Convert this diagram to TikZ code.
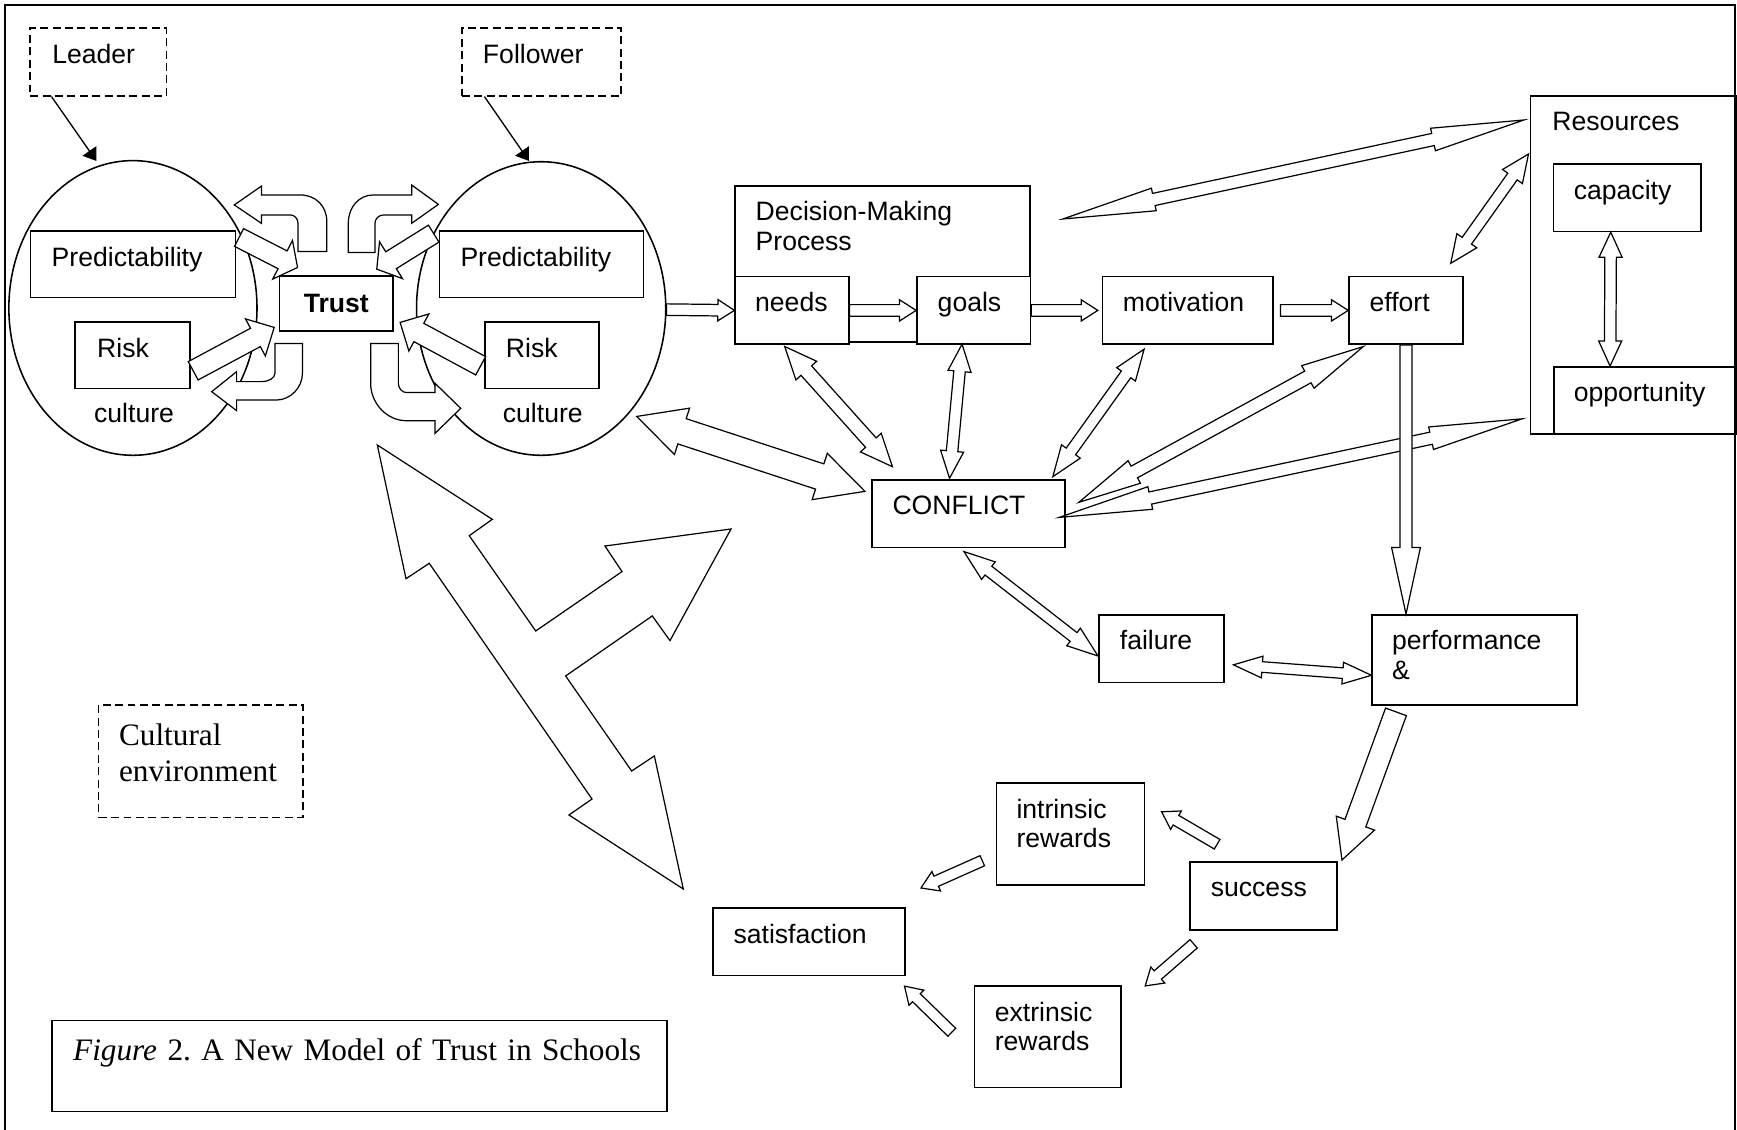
\documentclass[tikz,border=0pt]{standalone}
\usepackage{fontspec}
\setmainfont{Liberation Sans}
\newfontfamily\timesfont{Liberation Serif}
\frenchspacing
\usetikzlibrary{arrows.meta,calc,shapes.geometric}

% hollow block arrow: from, to, half shaft, half head, head length
\newcommand{\blockarrow}[5]{%
  \path (#1) coordinate (ba-a) (#2) coordinate (ba-b);
  \path ($(ba-b)!#5!(ba-a)$) coordinate (ba-n);
  \draw[blk] ($(ba-a)!#3!90:(ba-b)$) -- ($(ba-n)!#3!90:(ba-b)$) -- ($(ba-n)!#4!90:(ba-b)$) -- (ba-b)
    -- ($(ba-n)!#4!-90:(ba-b)$) -- ($(ba-n)!#3!-90:(ba-b)$) -- ($(ba-a)!#3!-90:(ba-b)$) -- cycle;}
% same, with a head at both ends
\newcommand{\dblockarrow}[5]{%
  \path (#1) coordinate (ba-a) (#2) coordinate (ba-b);
  \path ($(ba-a)!#5!(ba-b)$) coordinate (ba-m) ($(ba-b)!#5!(ba-a)$) coordinate (ba-n);
  \draw[blk] (ba-a) -- ($(ba-m)!#4!90:(ba-b)$) -- ($(ba-m)!#3!90:(ba-b)$) -- ($(ba-n)!#3!90:(ba-b)$)
    -- ($(ba-n)!#4!90:(ba-b)$) -- (ba-b) -- ($(ba-n)!#4!-90:(ba-b)$) -- ($(ba-n)!#3!-90:(ba-b)$)
    -- ($(ba-m)!#3!-90:(ba-b)$) -- ($(ba-m)!#4!-90:(ba-b)$) -- cycle;}

\begin{document}
\begin{tikzpicture}[x=0.5pt, y=-0.5pt,
  box/.style={draw, line width=0.7pt, anchor=north west, align=left, inner ysep=0pt,
              font=\fontsize{12}{13.4}\selectfont, text height=15.8pt},
  dbox/.style={box, dash pattern=on 3.6pt off 2pt},
  serifbox/.style={box, font=\timesfont\fontsize{14.1}{16.3}\selectfont, text height=18.4pt},
  blk/.style={draw, fill=white, line width=0.55pt, line join=miter},
  ptr/.style={-{Triangle[length=5.5pt, width=7.5pt]}, line width=0.6pt},
  oval/.style={draw, ellipse, line width=0.7pt, inner sep=0pt},
  lbl/.style={anchor=base, inner sep=0pt, font=\fontsize{12}{13.4}\selectfont}]
\useasboundingbox (0,0) rectangle (1568,1020);

% leader and follower
\node[oval, minimum width=112pt, minimum height=133pt] (ellL) at (120,278) {};
\node[oval, minimum width=112.5pt, minimum height=132.5pt] (ellR) at (488.5,278.5) {};
\node[lbl] (cultL) at (121,381) {culture};
\node[lbl] (cultR) at (490,381) {culture};
\node[dbox, inner xsep=10pt, text width=41.6pt, text depth=14.75pt] (leader) at (26.5,24.7) {Leader};
\node[dbox, inner xsep=9.5pt, text width=52.9pt, text depth=14.75pt] (follower) at (416.3,24.7) {Follower};
\draw[ptr] ([shift={(20,0)}]leader.south west) -- ([shift={(-33,1)}]ellL.north);
\draw[ptr] ([shift={(21,0)}]follower.south west) -- ([shift={(-11,0)}]ellR.north);
\node[box, inner xsep=9.5pt, text width=73.5pt, text depth=14.2pt] (predL) at (27,208) {Predictability};
\node[box, inner xsep=10pt, text width=32pt, text depth=14.2pt] (riskL) at (67,290) {Risk};
\node[box, inner xsep=9.5pt, text width=73pt, text depth=14.2pt] (predR) at (396,208) {Predictability};
\node[box, inner xsep=9.5pt, text width=32.5pt, text depth=14.2pt] (riskR) at (437,290) {Risk};
\node[draw, line width=0.7pt, minimum width=51.4pt, minimum height=24.85pt, inner sep=0pt,
      font=\bfseries\fontsize{12}{13.4}\selectfont] (trust) at (303.6,274) {Trust};

% loops round trust
\draw[blk] (295,227) -- (295,200) .. controls (295,186) and (285,176) .. (271,176) -- (236,176) -- (236,168)
  -- (211.5,185) -- (236,201.6) -- (236,194) -- (262,194) .. controls (266,194) and (269,197.5) .. (269,201.6)
  -- (269,227) -- cycle;
\draw[blk] (314.4,228) -- (314.4,201.6) .. controls (314.4,187) and (324,176) .. (337,176) -- (371.6,176)
  -- (371.6,167) -- (395.7,184.5) -- (371.6,201.6) -- (371.6,194.1) -- (346,194.1)
  .. controls (342,194.1) and (338.5,197.5) .. (338.5,201.6) -- (338.5,228) -- cycle;
\draw[blk] (248.2,310) -- (273,310) -- (273,337) .. controls (273,350) and (262,361.1) .. (249.7,361.1)
  -- (213.6,361.1) -- (213.6,370.7) -- (191.1,353.6) -- (213.6,335.5) -- (213.6,344.5) -- (236,344.5)
  .. controls (243,344.5) and (248.2,341) .. (248.2,337) -- cycle;
\draw[blk] (334.6,310) -- (359.6,310) -- (359.6,346) .. controls (359.6,350.5) and (363,354.4) .. (367.1,354.4)
  -- (392.7,354.4) -- (392.7,346) -- (415.9,368.6) -- (392.7,391.2) -- (392.7,379.8) -- (367,379.8)
  .. controls (349,379.8) and (334.6,364) .. (334.6,346) -- cycle;
\blockarrow{[shift={(2.4,6.4)}]predL.north east}{[shift={(17.1,-7)}]trust.north west}{4.5pt}{9.8pt}{7.6pt}
\blockarrow{[shift={(2,14)}]riskL.east}{[shift={(-4,-4)}]trust.south west}{4.7pt}{9.5pt}{9.6pt}
\blockarrow{[shift={(-4.5,2.9)}]predR.north west}{[shift={(-15.6,-5.5)}]trust.north east}{4.5pt}{9.8pt}{7.6pt}
\blockarrow{[shift={(-3.1,9.5)}]riskR.west}{[shift={(5.5,-8.5)}]trust.south east}{4.7pt}{9.5pt}{9.6pt}

% decision chain
\node[box, inner xsep=9.25pt, text width=114.5pt, text depth=54.7pt] (dm) at (663,167) {Decision-Making\\Process};
\node[box, fill=white, inner xsep=9pt, text width=33.25pt, text depth=14.7pt] (needs) at (663,249) {needs};
\node[box, fill=white, inner xsep=9.4pt, text width=32.45pt, text depth=14.7pt] (goals) at (827,249) {goals};
\node[box, inner xsep=9.25pt, text width=58.5pt, text depth=14.7pt] (motiv) at (994.5,249) {motivation};
\node[box, inner xsep=9.3pt, text width=32.9pt, text depth=14.7pt] (effort) at (1217,249) {effort};
\node[box, inner xsep=9.85pt, text width=72.9pt, text depth=136.8pt] (res) at (1381,85.8) {Resources};
\node[box, inner xsep=9.2pt, text width=48.3pt, text depth=14.6pt] (capacity) at (1401.6,147.4) {capacity};
\node[box, inner xsep=9pt, text width=64.1pt, text depth=14.5pt] (opport) at (1402,330.4) {opportunity};
\node[box, inner xsep=9.35pt, text width=68.45pt, text depth=14.75pt] (conflict) at (786.3,432.4) {CONFLICT};
\node[box, inner xsep=9.5pt, text width=37.4pt, text depth=14.65pt] (failure) at (991.2,554.3) {failure};
\node[box, inner xsep=9pt, text width=74.45pt, text depth=24.9pt] (perf) at (1238,554.3) {performance\\\&};
\node[box, inner xsep=9.5pt, text width=47.5pt, text depth=14.9pt] (success) at (1073.3,777.2) {success};
\node[box, inner xsep=9pt, text width=48.75pt, text depth=30.3pt] (intrinsic) at (898.9,706.2) {intrinsic\\rewards};
\node[box, inner xsep=9.25pt, text width=47.75pt, text depth=29.9pt] (extrinsic) at (878.8,889.4) {extrinsic\\rewards};
\node[box, inner xsep=9.25pt, text width=68pt, text depth=14.7pt] (satisf) at (643,819) {satisfaction};
\node[serifbox, dash pattern=on 3.6pt off 2pt, inner xsep=9.2pt, text width=73.7pt, text depth=32.4pt] (cultenv) at (88.4,635.5) {Cultural\\environment};
\node[serifbox, inner xsep=9.5pt, text width=258.5pt, text height=18.25pt, text depth=22.9pt] (caption) at (46.4,920.4) {\mbox{\textit{Figure} 2. A New Model of Trust in Schools}};

% arrows
\blockarrow{[shift={(0,1)}]ellR.east}{needs.west}{2.6pt}{4.8pt}{7.5pt}
\blockarrow{needs.east}{goals.west}{2.6pt}{4.8pt}{7.5pt}
\blockarrow{goals.east}{[shift={(-3.5,0)}]motiv.west}{2.6pt}{4.8pt}{7.5pt}
\blockarrow{[shift={(6,0)}]motiv.east}{effort.west}{2.6pt}{4.8pt}{7.5pt}
\dblockarrow{[shift={(-7,-14.3)}]res.south west}{[shift={(-5.8,3.4)}]conflict.east}{2.8pt}{5.2pt}{42pt}
\dblockarrow{[shift={(-5.3,22.5)}]res.north west}{[shift={(29,30.7)}]dm.north east}{2.8pt}{5.2pt}{42pt}
\blockarrow{effort.south}{effort.south |- perf.north}{2.7pt}{6.5pt}{30pt}
\blockarrow{[shift={(-71,5.5)}]perf.south}{[shift={(3.7,-0.9)}]success.north east}{5pt}{9.2pt}{17.7pt}
\blockarrow{[shift={(25.4,-15.1)}]success.north west}{[shift={(14.8,-20.2)}]intrinsic.east}{2.5pt}{4.8pt}{7.5pt}
\blockarrow{[shift={(-12.2,24)}]intrinsic.west}{[shift={(14,-17.4)}]satisf.north east}{2.5pt}{4.8pt}{7.5pt}
\blockarrow{[shift={(4.2,12)}]success.south west}{[shift={(21.1,0.6)}]extrinsic.north east}{2.5pt}{4.8pt}{7.5pt}
\blockarrow{[shift={(-19.6,-4)}]extrinsic.west}{[shift={(-0.9,8.8)}]satisf.south east}{2.5pt}{4.8pt}{7.5pt}
\dblockarrow{[shift={(8,14.7)}]failure.east}{[shift={(0,13.9)}]perf.west}{2.4pt}{4.9pt}{13pt}
\dblockarrow{[shift={(-4,3)}]conflict.south}{[shift={(0,6.75)}]failure.west}{2.5pt}{5pt}{14pt}
\dblockarrow{[shift={(-6.6,1.4)}]needs.south}{[shift={(19.3,-11.1)}]conflict.north west}{3.2pt}{6.3pt}{14.6pt}
\dblockarrow{[shift={(-10.5,-0.7)}]goals.south}{[shift={(-17,-0.6)}]conflict.north}{2.6pt}{5.2pt}{12.3pt}
\dblockarrow{[shift={(-39.4,3.8)}]motiv.south}{[shift={(-11.6,-2.1)}]conflict.north east}{2.6pt}{5.2pt}{14pt}
\dblockarrow{[shift={(13.6,1.5)}]effort.south west}{[shift={(11.9,-10.2)}]conflict.east}{3pt}{5.8pt}{28.5pt}
\dblockarrow{[shift={(-1.2,53.2)}]res.north west}{[shift={(-11.8,-11.3)}]effort.north east}{2.6pt}{5.5pt}{12.5pt}
\dblockarrow{[shift={(-15,0)}]capacity.south}{[shift={(51.4,0)}]opport.north west}{2.6pt}{5.2pt}{11.3pt}
\dblockarrow{[shift={(4,6)}]ellR.-48}{[shift={(-5.5,-20.1)}]conflict.west}{6pt}{11pt}{21.5pt}

% three-way arrow
\draw[blk] (340.6,401.7) -- (444.4,468.8) -- (423.6,483.6) -- (483.6,569.6) -- (561.5,516) -- (546.1,492.9)
  -- (659.9,477.5) -- (604.8,578.3) -- (588.8,556) -- (510.6,610.2) -- (570.2,696) -- (590.7,682.4)
  -- (616.8,802.5) -- (513.6,735.7) -- (534.4,721.3) -- (387.5,508.5) -- (366.5,522.4) -- cycle;

% frame
\draw[line width=1.3pt] (4.5,1020) -- (4.5,4.5) -- (1566.2,4.5) -- (1566.2,1020);
\end{tikzpicture}
\end{document}
